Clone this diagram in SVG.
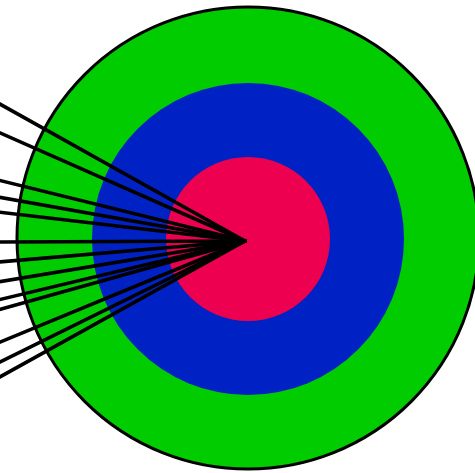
<svg xmlns="http://www.w3.org/2000/svg" width="475" height="473" viewBox="0 0 475 473">
<style>
.ln{stroke:#000;stroke-width:3.6;fill:none;stroke-linecap:round}
</style>
<rect width="475" height="473" fill="#fff"/>
<g id="outer"><circle cx="248" cy="238" r="231" fill="#00cc00" stroke="#000" stroke-width="3"/></g>
<g id="middle"><circle cx="248" cy="239" r="156" fill="#0022c4"/></g>
<g id="inner"><circle cx="248" cy="239" r="82" fill="#ee0050"/></g>
<g id="connectors">
<line class="ln" x1="-2" y1="103" x2="245" y2="241"/>
<line class="ln" x1="-2" y1="132" x2="245" y2="241"/>
<line class="ln" x1="-2" y1="180" x2="245" y2="241"/>
<line class="ln" x1="-2" y1="197" x2="245" y2="241"/>
<line class="ln" x1="-2" y1="212" x2="245" y2="241"/>
<line class="ln" x1="-2" y1="242" x2="245" y2="241"/>
<line class="ln" x1="-2" y1="262" x2="245" y2="241"/>
<line class="ln" x1="-2" y1="282" x2="245" y2="241"/>
<line class="ln" x1="-2" y1="300" x2="245" y2="241"/>
<line class="ln" x1="-2" y1="310" x2="245" y2="241"/>
<line class="ln" x1="-2" y1="343" x2="245" y2="241"/>
<line class="ln" x1="-2" y1="363" x2="245" y2="241"/>
<line class="ln" x1="-2" y1="378" x2="245" y2="241"/>
</g>
</svg>
